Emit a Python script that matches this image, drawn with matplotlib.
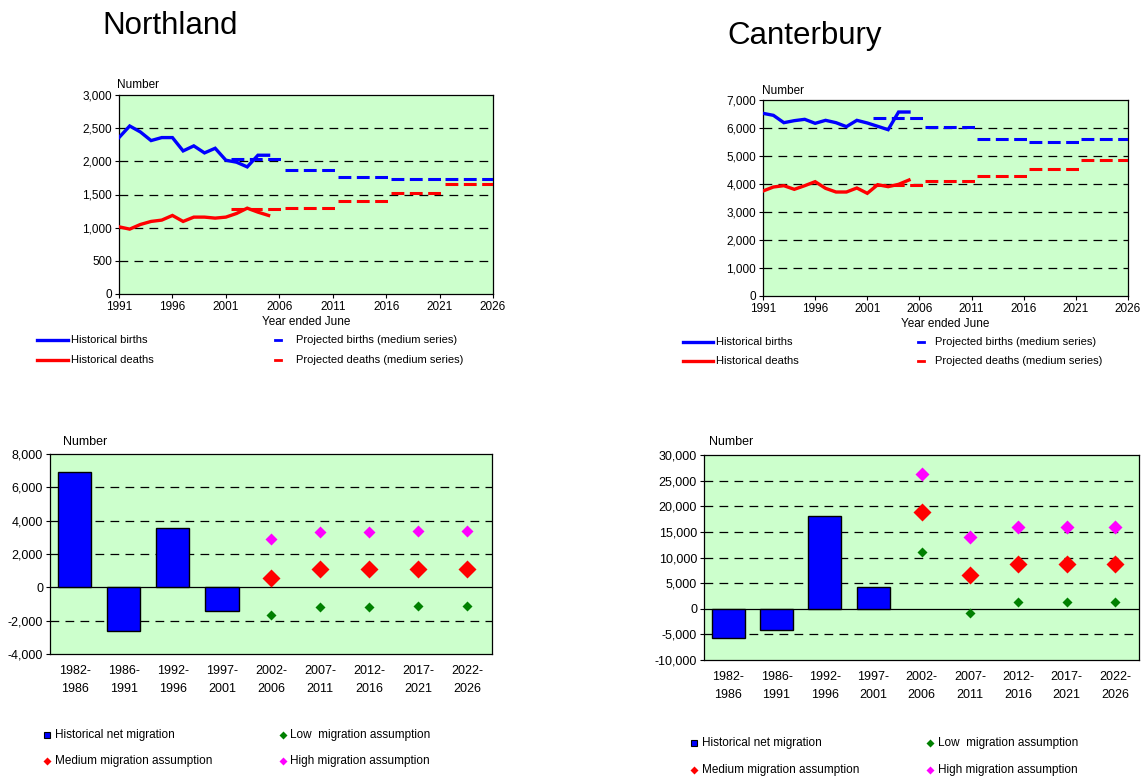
import matplotlib
matplotlib.use("Agg")
import matplotlib.pyplot as plt
import numpy as np
from matplotlib.ticker import FuncFormatter
from matplotlib.lines import Line2D

plt.rcParams['font.family'] = ['Liberation Sans', 'DejaVu Sans']

# ---------------- data ----------------
hist_years = [1991, 1992, 1993, 1994, 1995, 1996, 1997, 1998, 1999, 2000,
              2001, 2002, 2003, 2004, 2005]
proj_start = [2001.5, 2006.5, 2011.5, 2016.5, 2021.5]
proj_end = [2006.5, 2011.5, 2016.5, 2021.5, 2026.0]

nl_births = [2358, 2533, 2443, 2313, 2358, 2358, 2157, 2233, 2127, 2197,
             2017, 1987, 1916, 2092, 2092]
nl_deaths = [1013, 978, 1048, 1094, 1114, 1184, 1094, 1159, 1159, 1144,
             1159, 1214, 1294, 1234, 1184]
nl_proj_births = [2037, 1866, 1771, 1741, 1741]
nl_proj_deaths = [1274, 1304, 1395, 1520, 1660]

cb_births = [6524, 6452, 6190, 6262, 6310, 6167, 6274, 6190, 6048, 6274,
             6179, 6060, 5940, 6571, 6571]
cb_deaths = [3750, 3893, 3940, 3810, 3940, 4083, 3845, 3714, 3714, 3857,
             3667, 3976, 3905, 3988, 4143]
cb_proj_births = [6369, 6036, 5607, 5512, 5595]
cb_proj_deaths = [3952, 4095, 4286, 4536, 4857]

periods = ['1982-\n1986', '1986-\n1991', '1992-\n1996', '1997-\n2001',
           '2002-\n2006', '2007-\n2011', '2012-\n2016', '2017-\n2021',
           '2022-\n2026']
hist_periods = periods[:4]
proj_periods = periods[4:]

nl_hist_mig = [6900, -2640, 3540, -1400]
nl_low = [-1640, -1180, -1180, -1100, -1100]
nl_med = [580, 1110, 1110, 1110, 1120]
nl_high = [2880, 3320, 3320, 3400, 3400]

cb_hist_mig = [-5690, -4130, 18050, 4330]
cb_low = [11150, -810, 1270, 1270, 1270]
cb_med = [18830, 6600, 8680, 8680, 8680]
cb_high = [26310, 14020, 16030, 16030, 16030]

# ---------------- layout helpers ----------------
W, H = 1143, 777
fig = plt.figure(figsize=(W / 100, H / 100), dpi=100)
BG = '#CCFFCC'
BLUE = '#0000FF'
RED = '#FF0000'
GREEN = '#008000'
MAGENTA = '#FF00FF'
FS = 8.5
FSB = 9
fmt = FuncFormatter(lambda v, p: '{:,.0f}'.format(v))


def rect(l, t, r, b):
    return [l / W, 1 - b / H, (r - l) / W, (b - t) / H]


def ftext(x, y, s, **kw):
    fig.text(x / W, 1 - y / H, s, **kw)


def fline(x0, x1, y, **kw):
    fig.add_artist(Line2D([x0 / W, x1 / W], [1 - y / H, 1 - y / H],
                          transform=fig.transFigure, **kw))


def fmarker(x, y, **kw):
    fig.add_artist(Line2D([x / W], [1 - y / H], transform=fig.transFigure,
                          linestyle='none', **kw))


def seg_series(starts, ends, vals):
    xs, ys = [], []
    for s, e, v in zip(starts, ends, vals):
        xs += [s, e, np.nan]
        ys += [v, v, np.nan]
    return xs, ys


def top_chart(box, births, deaths, pb, pd, ymax, ystep):
    ax = fig.add_axes(rect(*box))
    ax.set_facecolor(BG)
    ax.set_xlim(1991, 2026)
    ax.set_ylim(0, ymax)
    ax.set_yticks(np.arange(0, ymax + 1, ystep))
    ax.set_xticks(np.arange(1991, 2027, 5))
    ax.yaxis.set_major_formatter(fmt)
    for v in np.arange(ystep, ymax, ystep):
        ax.axhline(v, color='black', lw=0.9, ls=(0, (7, 5)), zorder=1)
    ax.plot(hist_years, births, color=BLUE, lw=2.4, zorder=3,
            solid_joinstyle='miter')
    ax.plot(hist_years, deaths, color=RED, lw=2.4, zorder=3,
            solid_joinstyle='miter')
    xs, ys = seg_series(proj_start, proj_end, pb)
    ax.plot(xs, ys, color=BLUE, lw=2.2, ls=(0, (4.2, 1.8)), zorder=3)
    xs, ys = seg_series(proj_start, proj_end, pd)
    ax.plot(xs, ys, color=RED, lw=2.2, ls=(0, (4.2, 1.8)), zorder=3)
    ax.tick_params(labelsize=FS, length=3, width=0.8, direction='out', pad=2)
    for sp in ax.spines.values():
        sp.set_linewidth(0.9)
    ax.set_xlabel('Year ended June', fontsize=FS, labelpad=2)
    return ax


def bottom_chart(box, hist, low, med, high, ymin, ymax, ystep, ms):
    ax = fig.add_axes(rect(*box))
    ax.set_facecolor(BG)
    x_hist = np.arange(len(hist_periods))
    x_proj = np.arange(len(hist_periods), len(periods))
    ax.set_xlim(-0.5, len(periods) - 0.5)
    ax.set_ylim(ymin, ymax)
    ax.set_yticks(np.arange(ymin, ymax + 1, ystep))
    ax.yaxis.set_major_formatter(fmt)
    for v in np.arange(ymin + ystep, ymax, ystep):
        if v == 0:
            ax.axhline(0, color='black', lw=0.9, zorder=1)
        else:
            ax.axhline(v, color='black', lw=0.9, ls=(0, (7, 5)), zorder=1)
    ax.bar(x_hist, hist, width=0.68, color=BLUE, edgecolor='black',
           linewidth=1.0, zorder=2)
    ax.plot(x_proj, high, 'D', color=MAGENTA, ms=ms[2], mec='none', zorder=3)
    ax.plot(x_proj, med, 'D', color=RED, ms=ms[1], mec='none', zorder=3)
    ax.plot(x_proj, low, 'D', color=GREEN, ms=ms[0], mec='none', zorder=3)
    ax.set_xticks(np.arange(len(periods)))
    ax.set_xticklabels(periods, linespacing=1.6)
    ax.tick_params(axis='x', length=0, pad=8, labelsize=FSB)
    ax.tick_params(axis='y', length=3, width=0.8, pad=2, labelsize=FSB)
    for sp in ax.spines.values():
        sp.set_linewidth(0.9)
    return ax


# ---------------- titles ----------------
ftext(102, 26, 'Northland', fontsize=22.5, va='center', ha='left')
ftext(727, 36, 'Canterbury', fontsize=22.5, va='center', ha='left')

# ---------------- top charts ----------------
top_chart((119, 95, 493, 294), nl_births, nl_deaths, nl_proj_births,
          nl_proj_deaths, 3000, 500)
ftext(117, 85, 'Number', fontsize=FS, va='center')
top_chart((763, 100, 1128, 296), cb_births, cb_deaths, cb_proj_births,
          cb_proj_deaths, 7000, 1000)
ftext(762, 91, 'Number', fontsize=FS, va='center')


def top_legend(x_h0, x_h1, x_t1, x_d0, x_t2, y1, y2):
    fline(x_h0, x_h1, y1, color=BLUE, lw=2.4)
    fline(x_h0, x_h1, y2, color=RED, lw=2.4)
    ftext(x_t1, y1, 'Historical births', fontsize=8, va='center')
    ftext(x_t1, y2, 'Historical deaths', fontsize=8, va='center')
    fline(x_d0, x_d0 + 6, y1, color=BLUE, lw=2.0)
    fline(x_d0, x_d0 + 6, y2, color=RED, lw=2.0)
    ftext(x_t2, y1, 'Projected births (medium series)', fontsize=8,
          va='center')
    ftext(x_t2, y2, 'Projected deaths (medium series)', fontsize=8,
          va='center')


top_legend(37, 68, 71, 275, 296, 340, 360)
top_legend(683, 713, 716, 918, 935, 342, 361)

# ---------------- bottom charts ----------------
bottom_chart((50, 454, 492, 654), nl_hist_mig, nl_low, nl_med, nl_high,
             -4000, 8000, 2000, (4.8, 8.7, 6.2))
ftext(63, 442, 'Number', fontsize=FSB, va='center')
bottom_chart((704, 455, 1139, 660), cb_hist_mig, cb_low, cb_med, cb_high,
             -10000, 30000, 5000, (5.6, 9.2, 6.7))
ftext(709, 442, 'Number', fontsize=FSB, va='center')


def bottom_legend(xm1, xt1, xm2, xt2, y1, y2):
    fmarker(xm1, y1, marker='s', color=BLUE, mec='black', mew=0.8, ms=4.8)
    ftext(xt1, y1, 'Historical net migration', fontsize=FS, va='center')
    fmarker(xm1, y2, marker='D', color=RED, mec='none', ms=3.6)
    ftext(xt1, y2, 'Medium migration assumption', fontsize=FS, va='center')
    fmarker(xm2, y1, marker='D', color=GREEN, mec='none', ms=3.6)
    ftext(xt2, y1, 'Low  migration assumption', fontsize=FS, va='center')
    fmarker(xm2, y2, marker='D', color=MAGENTA, mec='none', ms=3.6)
    ftext(xt2, y2, 'High migration assumption', fontsize=FS, va='center')


bottom_legend(47, 55, 283, 290, 735, 761)
bottom_legend(694, 702, 930, 938, 743, 770)

fig.savefig('out.png', dpi=100)
